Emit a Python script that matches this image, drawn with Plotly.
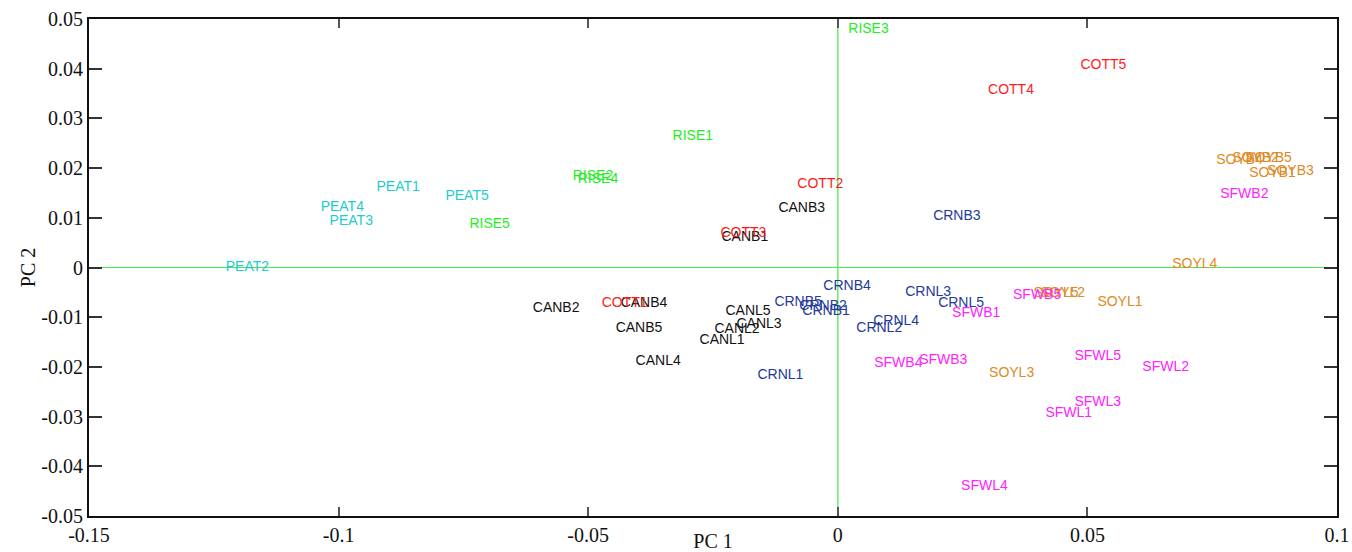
import plotly.graph_objects as go

# PCA scores (PC 1, PC 2) per sample, grouped by oil type
peat_names = ["PEAT1", "PEAT2", "PEAT3", "PEAT4", "PEAT5"]
peat_pc1 = [-0.0924, -0.1226, -0.1018, -0.1036, -0.0786]
peat_pc2 = [0.0161, 0.0000, 0.0092, 0.0120, 0.0143]

rise_names = ["RISE1", "RISE2", "RISE3", "RISE4", "RISE5"]
rise_pc1 = [-0.0331, -0.0531, 0.0021, -0.0521, -0.0738]
rise_pc2 = [0.0263, 0.0183, 0.0478, 0.0177, 0.0086]

cott_names = ["COTT1", "COTT2", "COTT3", "COTT4", "COTT5"]
cott_pc1 = [-0.0473, -0.0081, -0.0235, 0.0301, 0.0486]
cott_pc2 = [-0.0072, 0.0167, 0.0068, 0.0357, 0.0406]

canb_names = ["CANB1", "CANB2", "CANB3", "CANB4", "CANB5"]
canb_pc1 = [-0.0233, -0.0611, -0.0119, -0.0435, -0.0445]
canb_pc2 = [0.0060, -0.0082, 0.0118, -0.0072, -0.0122]

canl_names = ["CANL1", "CANL2", "CANL3", "CANL4", "CANL5"]
canl_pc1 = [-0.0277, -0.0247, -0.0203, -0.0405, -0.0225]
canl_pc2 = [-0.0147, -0.0124, -0.0114, -0.0189, -0.0088]

crnb_names = ["CRNB1", "CRNB2", "CRNB3", "CRNB4", "CRNB5"]
crnb_pc1 = [-0.0071, -0.0077, 0.0191, -0.0029, -0.0127]
crnb_pc2 = [-0.0088, -0.0078, 0.0102, -0.0038, -0.0070]

crnl_names = ["CRNL1", "CRNL2", "CRNL3", "CRNL4", "CRNL5"]
crnl_pc1 = [-0.0161, 0.0037, 0.0135, 0.0071, 0.0201]
crnl_pc2 = [-0.0217, -0.0122, -0.0050, -0.0108, -0.0072]

sfwb_names = ["SFWB1", "SFWB2", "SFWB3", "SFWB4", "SFWB5"]
sfwb_pc1 = [0.0229, 0.0766, 0.0163, 0.0073, 0.0351]
sfwb_pc2 = [-0.0092, 0.0147, -0.0187, -0.0193, -0.0056]

sfwl_names = ["SFWL1", "SFWL2", "SFWL3", "SFWL4", "SFWL5"]
sfwl_pc1 = [0.0416, 0.0610, 0.0474, 0.0247, 0.0474]
sfwl_pc2 = [-0.0293, -0.0201, -0.0271, -0.0440, -0.0179]

soyb_names = ["SOYB1", "SOYB2", "SOYB3", "SOYB4", "SOYB5"]
soyb_pc1 = [0.0824, 0.0790, 0.0860, 0.0758, 0.0816]
soyb_pc2 = [0.0189, 0.0219, 0.0193, 0.0215, 0.0219]

soyl_names = ["SOYL1", "SOYL2", "SOYL3", "SOYL4", "SOYL5"]
soyl_pc1 = [0.0520, 0.0405, 0.0303, 0.0670, 0.0392]
soyl_pc2 = [-0.0070, -0.0052, -0.0213, 0.0006, -0.0052]

x_ticks = [-0.15, -0.1, -0.05, 0, 0.05, 0.1]
x_tick_text = ["-0.15", "-0.1", "-0.05", "0", "0.05", "0.1"]
y_ticks = [-0.05, -0.04, -0.03, -0.02, -0.01, 0, 0.01, 0.02, 0.03, 0.04, 0.05]
y_tick_text = ["-0.05", "-0.04", "-0.03", "-0.02", "-0.01", "0",
               "0.01", "0.02", "0.03", "0.04", "0.05"]

groups = [
    (peat_names, peat_pc1, peat_pc2, "#22cccc"),
    (rise_names, rise_pc1, rise_pc2, "#22ee22"),
    (canb_names, canb_pc1, canb_pc2, "#111111"),
    (canl_names, canl_pc1, canl_pc2, "#111111"),
    (cott_names, cott_pc1, cott_pc2, "#ff1a1a"),
    (crnb_names, crnb_pc1, crnb_pc2, "#24399a"),
    (crnl_names, crnl_pc1, crnl_pc2, "#24399a"),
    (soyb_names, soyb_pc1, soyb_pc2, "#e08a22"),
    (soyl_names, soyl_pc1, soyl_pc2, "#e08a22"),
    (sfwb_names, sfwb_pc1, sfwb_pc2, "#ff22ff"),
    (sfwl_names, sfwl_pc1, sfwl_pc2, "#ff22ff"),
]

fig = go.Figure()

# reference lines through the origin
fig.add_shape(type="line", xref="x", yref="paper", x0=0, x1=0, y0=0, y1=1,
              line=dict(color="#66ee66", width=1.5), layer="below")
fig.add_shape(type="line", xref="paper", yref="y", x0=0, x1=1, y0=0, y1=0,
              line=dict(color="#44ee44", width=1), layer="below")

for names, xs, ys, color in groups:
    fig.add_trace(go.Scatter(
        x=xs, y=ys, text=names, mode="text",
        textposition="middle right",
        textfont=dict(family="Liberation Sans", size=14, color=color),
        hoverinfo="text", showlegend=False, cliponaxis=False,
    ))

serif = "Times New Roman, Liberation Serif, serif"
tick_font = dict(family=serif, size=20, color="#111111", weight="normal")
title_font = dict(family=serif, size=20, color="#111111")

fig.update_layout(
    width=1352, height=552,
    margin=dict(l=89, r=15, t=19, b=36),
    paper_bgcolor="white", plot_bgcolor="white",
    font=dict(family=serif, size=20, color="#111111"),
    xaxis=dict(
        range=[-0.15, 0.1], tickvals=x_ticks, ticktext=x_tick_text,
        showgrid=False, zeroline=False, automargin=False,
        showline=True, linecolor="#111111", linewidth=2, mirror="allticks",
        ticks="inside", ticklen=9, tickwidth=1.5, tickcolor="#555555",
        tickfont=tick_font,
        title=dict(text="PC 1", font=title_font, standoff=0),
    ),
    yaxis=dict(
        range=[-0.05, 0.05], tickvals=y_ticks, ticktext=y_tick_text,
        showgrid=False, zeroline=False, automargin=False,
        showline=True, linecolor="#111111", linewidth=2, mirror="allticks",
        ticks="inside", ticklen=13, tickwidth=1.5, tickcolor="#333333",
        tickfont=tick_font,
        title=dict(text="PC 2", font=title_font, standoff=0),
    ),
)

fig.write_html("out.html")
